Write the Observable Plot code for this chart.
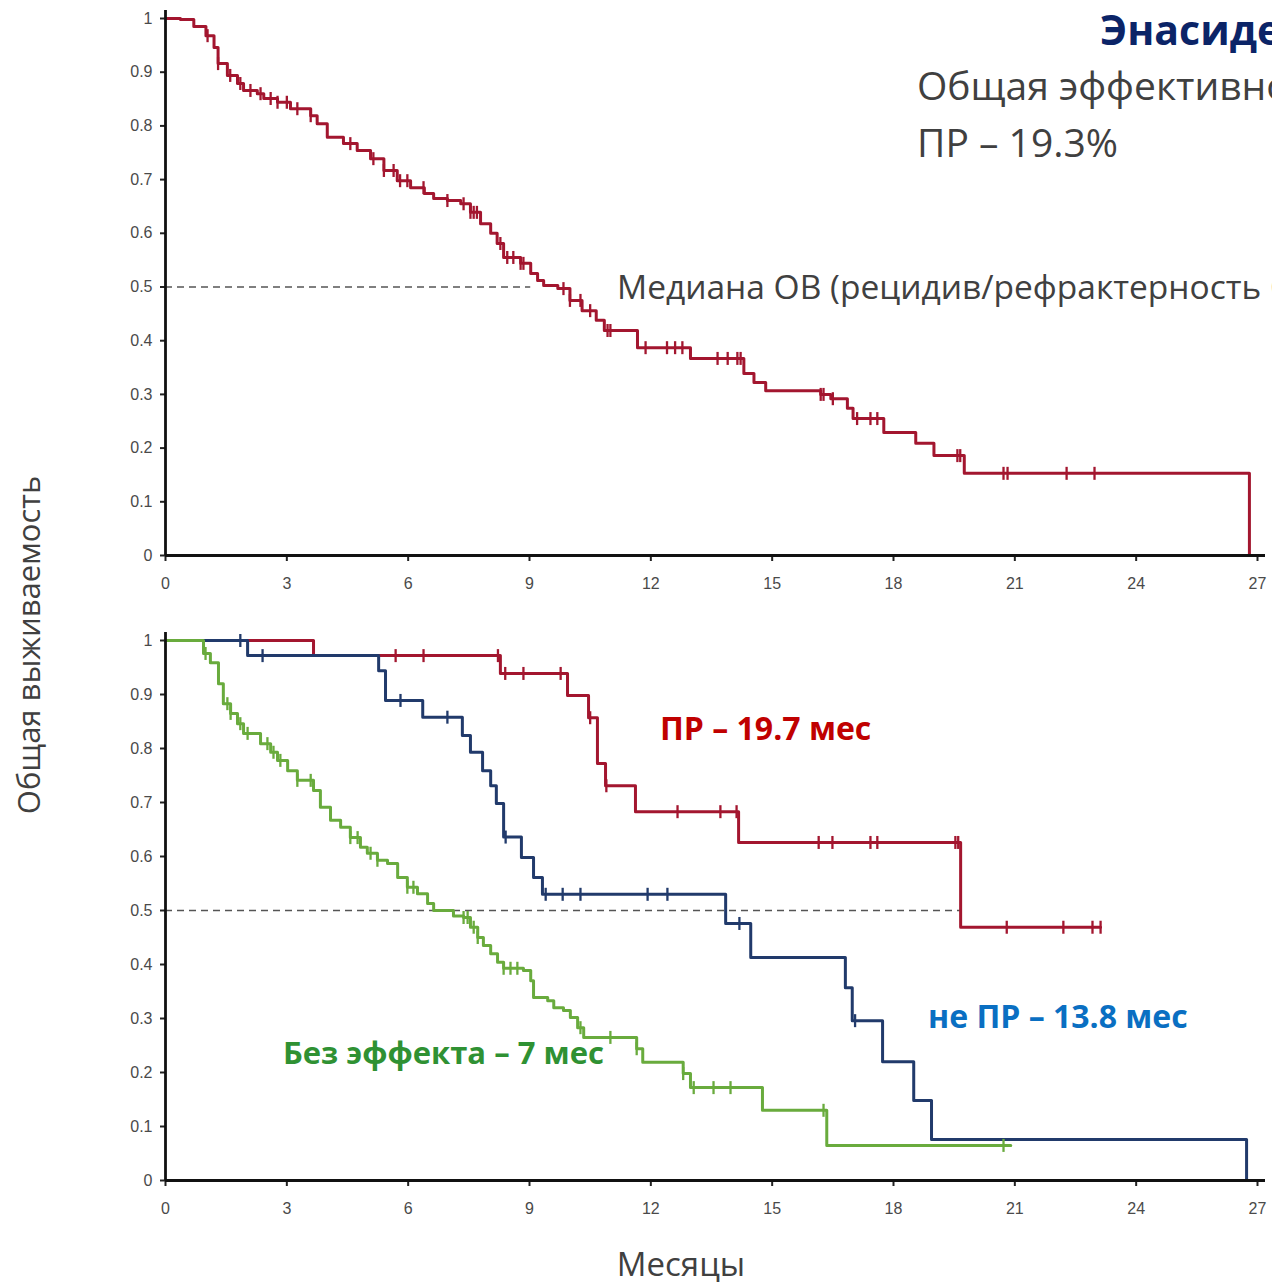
<!DOCTYPE html>
<html lang="ru">
<head>
<meta charset="utf-8">
<script src="https://cdn.jsdelivr.net/npm/d3@7"></script>
<script src="https://cdn.jsdelivr.net/npm/@observablehq/plot@0.6"></script>
<style>
  html, body { margin: 0; padding: 0; background: #fff; overflow: hidden; }
  #page { position: relative; width: 1272px; height: 1284px; overflow: hidden; font-family: "Open Sans", "Noto Sans", sans-serif; }
  .panel { position: absolute; left: 0; }
  .note { position: absolute; white-space: nowrap; line-height: 1; }
  .panel svg text { font-family: "Liberation Sans", Arial, sans-serif; }
</style>
</head>
<body>
<div id="page">
  <div class="panel" id="top" style="top:0"></div>
  <div class="panel" id="bottom" style="top:620px"></div>

  <div class="note" style="left:1100px; top:9px; font-size:41px; font-weight:700; color:#0b2467;">Энасидениб</div>
  <div class="note" style="left:917px; top:65px; font-size:39px; color:#404040;">Общая эффективность</div>
  <div class="note" style="left:917px; top:122px; font-size:39px; color:#404040;">ПР – 19.3%</div>
  <div class="note" style="left:617px; top:270px; font-size:33.5px; color:#404040;">Медиана ОВ (рецидив/рефрактерность ОМЛ)</div>

  <div class="note" style="left:660px; top:712px; font-size:32px; font-weight:700; color:#c00000;">ПР – 19.7 мес</div>
  <div class="note" style="left:928px; top:1000px; font-size:32px; font-weight:700; color:#0a6fc2;">не ПР – 13.8 мес</div>
  <div class="note" style="left:283px; top:1037px; font-size:31px; font-weight:700; color:#2f9133;">Без эффекта – 7 мес</div>

  <div class="note" style="left:28px; top:645px; font-size:31px; color:#404040; transform:translate(-50%,-50%) rotate(-90deg);">Общая выживаемость</div>
  <div class="note" style="left:681px; top:1263px; font-size:33px; color:#404040; transform:translate(-50%,-50%);">Месяцы</div>
</div>
<script>
// Axis ticks
const monthTicks = [0, 3, 6, 9, 12, 15, 18, 21, 24, 27];
const survTicks = [0, 0.1, 0.2, 0.3, 0.4, 0.5, 0.6, 0.7, 0.8, 0.9, 1];

// Overall survival, all patients (time in months, survival after each step)
const overallTime = [0,0.37,0.7,1.0,1.2,1.3,1.53,1.78,1.93,2.27,2.43,2.77,3.09,3.59,3.75,4.0,4.4,4.74,5.07,5.4,5.73,6.06,6.4,6.63,6.97,7.3,7.54,7.79,8.04,8.2,8.36,8.78,9.03,9.2,9.35,9.7,10.0,10.3,10.65,10.85,11.67,12.98,14.3,14.55,14.84,16.2,16.45,16.86,17.0,17.76,18.55,19.0,19.75,26.8];
const overallSurv = [1,0.998,0.985,0.968,0.946,0.916,0.894,0.879,0.866,0.86,0.851,0.844,0.832,0.819,0.804,0.779,0.767,0.754,0.739,0.717,0.698,0.685,0.674,0.665,0.661,0.655,0.639,0.618,0.6,0.581,0.555,0.544,0.525,0.512,0.503,0.497,0.475,0.456,0.438,0.419,0.387,0.367,0.339,0.322,0.307,0.3,0.292,0.274,0.255,0.229,0.209,0.186,0.153,0];
const overallCensor = [1.04,1.3,1.6,1.85,2.1,2.35,2.6,2.77,3.0,3.26,3.59,4.57,5.14,5.4,5.64,5.8,5.98,6.38,6.97,7.37,7.54,7.62,7.7,8.28,8.45,8.6,8.78,8.85,9.84,10.0,10.26,10.5,10.93,11.0,11.87,12.4,12.6,12.78,13.65,13.9,14.14,14.22,16.2,16.27,16.5,17.1,17.43,17.6,19.58,19.65,20.72,20.82,22.28,22.97];
const overallMedian = 9.03;

// Complete remission (ПР)
const crTime = [0,3.66,8.28,9.94,10.46,10.68,10.88,11.62,14.17,19.66,23.12];
const crSurv = [1,0.972,0.939,0.898,0.857,0.772,0.731,0.683,0.626,0.469,0.469];
const crCensor = [5.69,6.38,8.22,8.4,8.85,9.77,10.5,10.9,12.66,13.72,14.12,16.15,16.49,17.43,17.6,19.53,19.6,20.8,22.2,22.92,23.12];
const crMedian = 19.66;

// Response other than complete remission (не ПР)
const nonCrTime = [0,2.03,5.27,5.44,6.36,7.34,7.54,7.84,8.04,8.18,8.36,8.8,9.1,9.32,13.85,14.47,16.81,16.98,17.73,18.5,18.94,26.73];
const nonCrSurv = [1,0.972,0.944,0.889,0.858,0.824,0.793,0.759,0.731,0.698,0.636,0.598,0.561,0.53,0.476,0.413,0.357,0.296,0.22,0.148,0.076,0];
const nonCrCensor = [1.85,2.4,5.81,6.97,8.41,9.4,9.82,10.26,11.92,12.41,14.19,17.05];

// No response (Без эффекта)
const nrTime = [0,0.94,1.11,1.31,1.43,1.61,1.78,1.93,2.35,2.6,2.77,3.02,3.26,3.66,3.83,4.08,4.33,4.57,4.82,4.99,5.24,5.49,5.74,5.98,6.23,6.48,6.63,7.12,7.37,7.54,7.72,7.86,8.04,8.21,8.36,8.85,9.03,9.1,9.45,9.6,9.84,10.01,10.19,10.34,11.65,11.8,12.8,12.98,14.76,16.35,20.9];
const nrSurv = [1,0.976,0.959,0.92,0.883,0.865,0.846,0.828,0.809,0.793,0.778,0.759,0.741,0.722,0.691,0.667,0.654,0.635,0.617,0.606,0.593,0.587,0.561,0.543,0.531,0.513,0.5,0.49,0.487,0.469,0.45,0.435,0.42,0.404,0.393,0.389,0.37,0.339,0.333,0.32,0.315,0.302,0.283,0.265,0.244,0.219,0.198,0.172,0.13,0.065,0.065];
const nrCensor = [0.99,1.53,1.61,1.85,2.03,2.52,2.67,2.84,3.26,3.59,4.57,4.75,5.07,5.24,5.98,6.13,7.37,7.47,7.62,7.72,8.36,8.53,8.7,10.26,11.0,11.65,12.8,13.06,13.55,13.97,16.27,20.72];

const colors = { overall: "#a3162f", cr: "#a3162f", nonCr: "#213a6b", nr: "#69ab3d" };

const steps = (time, surv) => time.map((t, i) => ({ t, s: surv[i] }));

// survival level of a step curve at time t (value after the last step at or before t)
function levelAt(curve, t) {
  const i = d3.bisector(d => d.t).right(curve, t) - 1;
  return curve[Math.max(0, i)].s;
}
const censorMarks = (curve, times) => times.map(t => ({ t, s: levelAt(curve, t) }));

// short vertical stroke used for censored observations
const censorTick = {
  draw(context, size) {
    const h = Math.sqrt(size / Math.PI);
    context.moveTo(0, -h);
    context.lineTo(0, h);
  }
};

const survFormat = d => (d === 0 || d === 1) ? String(d) : d.toFixed(1);

function curveMarks(curve, censors, color) {
  return [
    Plot.line(curve, { x: "t", y: "s", curve: "step-after", stroke: color, strokeWidth: 3 }),
    Plot.dot(censorMarks(curve, censors), { x: "t", y: "s", symbol: censorTick, r: 6.5, stroke: color, strokeWidth: 2.3, fill: "none" })
  ];
}

function panel({ marginTop, marginBottom, height, median, groups }) {
  return Plot.plot({
    width: 1272,
    height,
    marginLeft: 165,
    marginRight: 15,
    marginTop,
    marginBottom,
    style: { background: "transparent", overflow: "visible" },
    x: { domain: [0, 27], ticks: monthTicks },
    y: { domain: [0, 1], ticks: survTicks },
    marks: [
      Plot.axisX({ ticks: monthTicks, tickSize: 6, tickPadding: 16, fontSize: 16, color: "#4a4a4a", label: null, strokeWidth: 2, stroke: "#222" }),
      Plot.axisY({ ticks: survTicks, tickFormat: survFormat, tickSize: 5, tickPadding: 8, fontSize: 16, color: "#4a4a4a", label: null, strokeWidth: 2, stroke: "#222" }),
      Plot.ruleY([0.5], { x1: 0, x2: median, stroke: "#555", strokeWidth: 1.7, strokeDasharray: "7,5" }),
      ...groups.flatMap(g => curveMarks(g.curve, g.censors, g.color)),
      Plot.ruleX([0], { stroke: "#111", strokeWidth: 2.8, insetTop: -8 }),
      Plot.ruleY([0], { stroke: "#111", strokeWidth: 2.8, insetRight: -8 })
    ]
  });
}

const overall = steps(overallTime, overallSurv);
const cr = steps(crTime, crSurv);
const nonCr = steps(nonCrTime, nonCrSurv);
const nr = steps(nrTime, nrSurv);

document.getElementById("top").append(panel({
  marginTop: 18, marginBottom: 45, height: 600, median: overallMedian,
  groups: [{ curve: overall, censors: overallCensor, color: colors.overall }]
}));

document.getElementById("bottom").append(panel({
  marginTop: 20, marginBottom: 40, height: 600, median: crMedian,
  groups: [
    { curve: cr, censors: crCensor, color: colors.cr },
    { curve: nonCr, censors: nonCrCensor, color: colors.nonCr },
    { curve: nr, censors: nrCensor, color: colors.nr }
  ]
}));
</script>
</body>
</html>
